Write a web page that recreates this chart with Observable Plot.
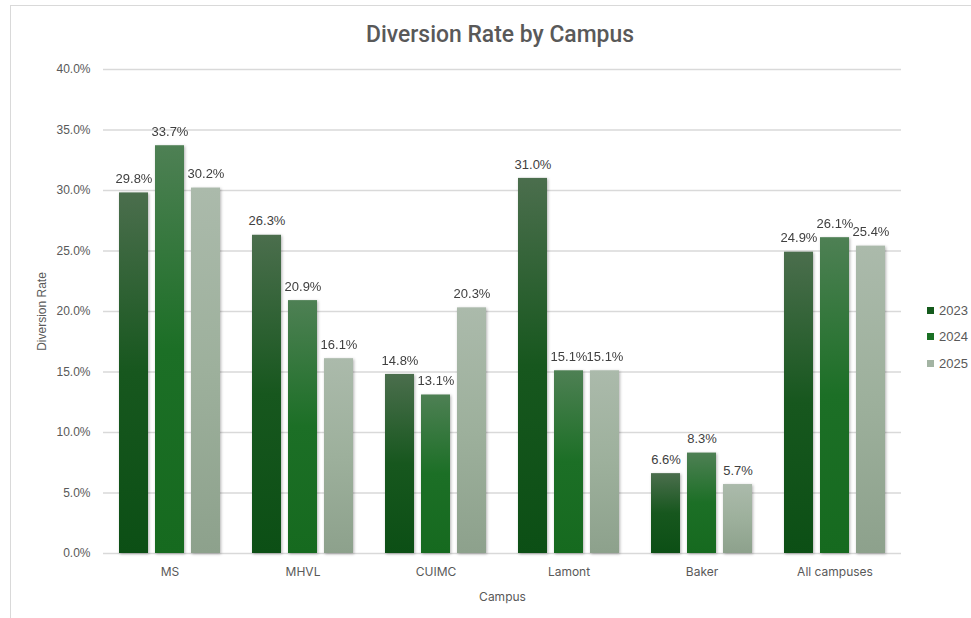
<!DOCTYPE html>
<html>
<head>
<meta charset="utf-8">
<script src="https://cdn.jsdelivr.net/npm/d3@7"></script>
<script src="https://cdn.jsdelivr.net/npm/@observablehq/plot@0.6"></script>
<style>
  body { margin: 0; background: #fff; }
  #chart { position: relative; width: 971px; height: 618px; overflow: hidden; font-family: "Liberation Sans", Arial, sans-serif; }
  #frame { position: absolute; left: 10px; top: 5px; right: -10px; bottom: -10px; border-top: 1.5px solid #d9d9d9; border-left: 1.5px solid #d9d9d9; }
  #title { position: absolute; top: 21px; left: 500px; white-space: nowrap; font-family: Roboto, "Liberation Sans", sans-serif; font-weight: 500; font-size: 23px; color: #595959; transform-origin: 0 0; }
  #plot { position: absolute; left: 0; top: 0; }
  #legend { position: absolute; left: 927px; top: 0; font-size: 13px; color: #595959; }
  .item { position: absolute; white-space: nowrap; display: flex; align-items: center; }
  .sw { width: 7px; height: 7px; margin-right: 5px; }
</style>
</head>
<body>
<div id="chart">
  <div id="frame"></div>
  <div id="plot"></div>
  <div id="title">Diversion Rate by Campus</div>
  <div id="legend"></div>
</div>
<script>
// Diversion rate (%) per campus, one array per year
const campuses = ["MS", "MHVL", "CUIMC", "Lamont", "Baker", "All campuses"];
const years = ["2023", "2024", "2025"];
const rate2023 = [29.8, 26.3, 14.8, 31.0, 6.6, 24.9];
const rate2024 = [33.7, 20.9, 13.1, 15.1, 8.3, 26.1];
const rate2025 = [30.2, 16.1, 20.3, 15.1, 5.7, 25.4];
const yTicks = [0, 5, 10, 15, 20, 25, 30, 35, 40];

const seriesByYear = {"2023": rate2023, "2024": rate2024, "2025": rate2025};
const rows = campuses.flatMap((campus, i) =>
  years.map(year => ({campus, year, rate: seriesByYear[year][i]})));

// vertical gradient stops (top → bottom) and legend swatch colour per year
const gradients = {
  "2023": [["0%", "#4b6e4d"], ["50%", "#17571e"], ["100%", "#0c4f15"]],
  "2024": [["0%", "#4e8054"], ["50%", "#1c6f26"], ["100%", "#166a1f"]],
  "2025": [["0%", "#abbaab"], ["50%", "#9db09c"], ["100%", "#8da18c"]]
};
const swatch = {"2023": "#145a1c", "2024": "#1a7024", "2025": "#a3b4a3"};

const pct = d => d.toFixed(1) + "%";

const chart = Plot.plot({
  width: 971,
  height: 618,
  marginTop: 69,
  marginBottom: 65,
  marginLeft: 101,
  marginRight: 68,
  style: {fontFamily: "'Liberation Sans', Arial, sans-serif", fontSize: "12px", color: "#595959", background: "transparent", overflow: "visible"},
  fx: {domain: campuses, padding: 0},
  x: {domain: years, paddingInner: 0.19, paddingOuter: 0.4, axis: null},
  y: {domain: [0, 40]},
  marks: [
    Plot.gridY(yTicks, {stroke: "#d9d9d9", strokeOpacity: 1, strokeWidth: 1.3}),
    Plot.axisY(yTicks, {
      tickSize: 0, tickPadding: 13, tickFormat: pct,
      label: "Diversion Rate", labelAnchor: "center", labelOffset: 66, labelArrow: "none"
    }),
    Plot.axisFx({
      anchor: "bottom", tickSize: 0, tickPadding: 14, fontFamily: "Inter, sans-serif",
      label: "Campus", labelAnchor: "center", labelOffset: 47, labelArrow: "none"
    }),
    ...years.map(year => Plot.barY(rows.filter(r => r.year === year), {
      fx: "campus", x: "year", y: "rate", fill: `url(#bar-grad-${year})`
    })),
    Plot.text(rows, {
      fx: "campus", x: "year", y: "rate", text: d => pct(d.rate),
      dy: -14, fill: "#404040", fontSize: 13
    })
  ]
});

// gradient definitions for the bars
const svg = d3.select(chart);
const defs = svg.insert("defs", ":first-child");
for (const year of years) {
  const g = defs.append("linearGradient").attr("id", `bar-grad-${year}`)
    .attr("x1", 0).attr("y1", 0).attr("x2", 0).attr("y2", 1);
  for (const [off, col] of gradients[year]) g.append("stop").attr("offset", off).attr("stop-color", col);
}
svg.selectAll('g[aria-label="bar"]').style("filter", "drop-shadow(1px 1px 1.5px rgba(0,0,0,0.3))");

document.getElementById("plot").appendChild(chart);

// condensed title, centred over the chart
const title = document.getElementById("title");
const tw = title.getBoundingClientRect().width;
const sx = 268 / tw;
title.style.transform = `translateX(${-134}px) scaleX(${sx})`;

// legend
const legend = d3.select("#legend");
const legendY = {"2023": 311, "2024": 337, "2025": 364};
for (const year of years) {
  const item = legend.append("div").attr("class", "item").style("top", (legendY[year] - 8) + "px");
  item.append("div").attr("class", "sw").style("background", swatch[year]);
  item.append("span").text(year);
}
</script>
</body>
</html>
